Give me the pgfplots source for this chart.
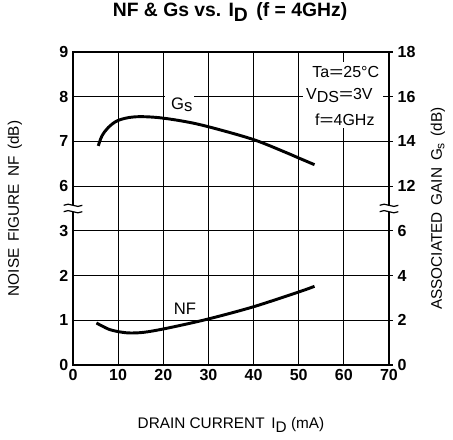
\documentclass[border=0pt]{standalone}
\usepackage{fontspec}
\setmainfont{Liberation Sans}
\usepackage{pgfplots}
\pgfplotsset{compat=1.18}
\newcommand{\eq}{\scalebox{1.5}[1]{=}}
\begin{document}
\begin{tikzpicture}
% y axis is drawn on a broken scale: positions 0..3 = NF 0..3 dB, positions 4..7 = 6..9 dB
\begin{axis}[name=main, scale only axis, width=237pt, height=234.75pt,
  xmin=0, xmax=70, ymin=0, ymax=7,
  xtick={0,10,...,70}, xticklabels={0,10,20,30,40,50,60,70},
  ytick={0,...,7}, yticklabels={0,1,2,3,6,7,8,9},
  grid=major, major grid style={black, line width=0.7pt},
  axis line style={line width=1.6pt},
  major tick length=0pt,
  tick label style={font=\fontsize{12}{14}\selectfont\bfseries},
  /pgf/number format/assume math mode=true,
  clip=false,
  title={NF \& Gs vs. I\raisebox{-0.45ex}{D} \,(f = 4GHz)},
  title style={at={(axis description cs:0.497,1.102)}, anchor=center, font=\fontsize{14.5}{17}\selectfont\bfseries},
  xlabel={DRAIN CURRENT \,I\raisebox{-0.4ex}{D} (mA)},
  xlabel style={at={(axis description cs:0.5,-0.1917)}, anchor=center, font=\fontsize{11.5}{13}\selectfont},
  ylabel={NOISE \,FIGURE \,NF \,(dB)},
  ylabel style={at={(axis description cs:-0.1835,0.5)}, anchor=center, font=\fontsize{11.5}{13}\selectfont},
]
% Gs (left-scale value minus 2, i.e. broken-axis position)
\addplot[black, line width=2.2pt, smooth, tension=0.55] coordinates {
 (5.6,4.90) (6.4,5.12) (7.8,5.31) (10.0,5.47) (13.7,5.55) (19.2,5.53)
 (26.6,5.41) (34.0,5.22) (40.6,5.02) (47,4.76) (50,4.63) (53.5,4.48)};
% NF (dB)
\addplot[black, line width=2.2pt, smooth, tension=0.5] coordinates {
 (5.2,0.94) (8.2,0.79) (11.9,0.72) (15.6,0.73) (20.7,0.82) (29.6,1.02)
 (39.9,1.30) (50.2,1.64) (53.5,1.76)};
% condition box
\fill[white] (axis cs:50.9,5.3) rectangle (axis cs:68.6,6.78);
\node[anchor=west, font=\fontsize{12}{14}\selectfont] at (axis cs:52.0,6.55) {Ta\eq25°C};
\node[anchor=west, font=\fontsize{12}{14}\selectfont] at (axis cs:50.6,6.02) {V\raisebox{-0.35ex}{DS}\eq3V};
\node[anchor=west, font=\fontsize{12}{14}\selectfont] at (axis cs:52.6,5.48) {f\eq4GHz};
% curve labels
\fill[white] (axis cs:20.3,5.95) rectangle (axis cs:26.9,6.05);
\node[font=\fontsize{12.5}{14}\selectfont] at (axis cs:24.1,5.82) {G\raisebox{-0.3ex}{s}};
\node[font=\fontsize{12.5}{14}\selectfont] at (axis cs:24.8,1.26) {NF};
\end{axis}
\begin{axis}[scale only axis, width=237pt, height=234.75pt,
  xmin=0, xmax=70, ymin=0, ymax=7,
  hide x axis, axis y line*=right,
  ytick={0,...,7}, yticklabels={0,2,4,6,12,14,16,18},
  axis line style={line width=1.6pt},
  tick align=outside, major tick length=3pt,
  ytick style={black, line width=0.8pt},
  tick label style={font=\fontsize{12}{14}\selectfont\bfseries},
  /pgf/number format/assume math mode=true,
  clip=false,
  ylabel={ASSOCIATED \,GAIN \,G\raisebox{-0.3ex}{\small s} \,(dB)},
  ylabel style={at={(axis description cs:1.155,0.5)}, anchor=center, font=\fontsize{11.5}{13}\selectfont},
]
% axis break marks
\fill[white] (axis cs:0,3.5) ++(-2pt,-2.4pt) rectangle ++(4pt,4.8pt);
\draw[line width=0.9pt] (axis cs:0,3.5) ++(-7pt,2.4pt) .. controls +(4pt,3pt) and +(-4pt,-3pt) .. ++(14pt,0pt);
\draw[line width=0.9pt] (axis cs:0,3.5) ++(-7pt,-2.4pt) .. controls +(4pt,3pt) and +(-4pt,-3pt) .. ++(14pt,0pt);
\fill[white] (axis cs:70,3.5) ++(-2pt,-2.4pt) rectangle ++(4pt,4.8pt);
\draw[line width=0.9pt] (axis cs:70,3.5) ++(-7pt,2.4pt) .. controls +(4pt,3pt) and +(-4pt,-3pt) .. ++(14pt,0pt);
\draw[line width=0.9pt] (axis cs:70,3.5) ++(-7pt,-2.4pt) .. controls +(4pt,3pt) and +(-4pt,-3pt) .. ++(14pt,0pt);
\end{axis}
\pgfresetboundingbox
\useasboundingbox ([shift={(-54.75pt,-55.5pt)}]main.south west) rectangle ([shift={(285pt,273.75pt)}]main.south west);
\end{tikzpicture}
\end{document}
